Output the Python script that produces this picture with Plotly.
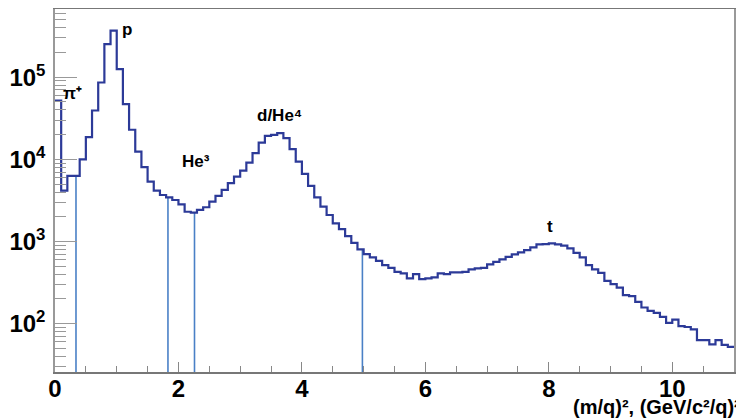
import plotly.graph_objects as go

# ---- data ----
bin_edges_start = 0.0
bin_width = 0.1
counts = [
    52000, 4150, 6280, 6280, 10000, 18600, 39300, 86200, 253000, 368000,
    125000, 47000, 22900, 12400, 8020, 5350, 4150, 3680, 3450, 3200,
    2830, 2300, 2240, 2420, 2610, 3050, 3580, 4240, 5120, 6150,
    7280, 9120, 11900, 16000, 19300, 19900, 20800, 18100, 13300, 9380,
    6640, 4740, 3450, 2650, 2100, 1660, 1410, 1160, 964, 801,
    702, 640, 582, 516, 478, 427, 408, 355, 400, 348,
    355, 365, 408, 400, 420, 420, 427, 457, 470, 478,
    526, 566, 605, 651, 696, 736, 785, 847, 922, 930,
    948, 922, 891, 824, 728, 640, 516, 457, 415, 332,
    302, 275, 222, 216, 184, 157, 143, 135, 121, 102,
    112, 93, 91, 85, 63, 63, 56, 63, 55, 52,
]
cuts = [0.34, 1.83, 2.26, 4.98]

labels = ["π⁺", "p", "He³", "d/He⁴", "t"]
label_x = [0.29, 1.17, 2.28, 3.63, 8.02]
label_logy = [4.80, 5.578, 3.974, 4.529, 3.188]

y_major = [100, 1000, 10000, 100000]
y_major_text = ["10<sup>2</sup>", "10<sup>3</sup>", "10<sup>4</sup>", "10<sup>5</sup>"]
x_major = [0, 2, 4, 6, 8, 10]

x_title = "(m/q)², (GeV/c²/q)²"

# ---- build ----
n = len(counts)
edges = [bin_edges_start + i * bin_width for i in range(n + 1)]
step_y = counts + [counts[-1]]

HIST = "#2c3a98"
CUT = "#4a80c6"
FONT = "Liberation Sans"

fig = go.Figure()

for c in cuts:
    k = min(int(c / bin_width), n - 1)
    fig.add_trace(go.Scatter(x=[c, c], y=[1, counts[k]], mode="lines",
                             line=dict(color=CUT, width=1.6),
                             hoverinfo="skip", showlegend=False))

fig.add_trace(go.Scatter(x=edges, y=step_y, mode="lines", line_shape="hv",
                         line=dict(color=HIST, width=2.2),
                         showlegend=False))

for t, lx, ly in zip(labels, label_x, label_logy):
    fig.add_annotation(x=lx, y=ly, text=t, showarrow=False,
                       font=dict(family=FONT, size=17, color="black", weight="bold"),
                       xanchor="center", yanchor="middle")

fig.add_annotation(xref="paper", yref="paper", x=1.013, y=-0.131, text=x_title,
                   showarrow=False, xanchor="right", yanchor="bottom",
                   font=dict(family=FONT, size=20, color="black", weight="bold"))

minor_y = [m * 10 ** d for d in range(1, 6) for m in range(2, 10)]

# page body has an 8px margin, so the figure is sized to fit the window
fig.update_layout(
    width=736, height=411,
    margin=dict(l=47, r=10, t=1, b=47, autoexpand=False),
    paper_bgcolor="white", plot_bgcolor="white",
    xaxis=dict(range=[0, 11], tickvals=x_major, ticks="inside", ticklen=10,
               tickcolor="#888", tickwidth=1, showgrid=False, zeroline=False,
               showline=True, linecolor="#777", linewidth=1.5, mirror=True,
               automargin=False, ticklabelstandoff=-6,
               tickfont=dict(family=FONT, size=24, color="black", weight="bold"),
               minor=dict(dtick=0.5, ticks="inside", ticklen=6, tickcolor="#888",
                          showgrid=False)),
    yaxis=dict(type="log", range=[1.411, 5.830], tickvals=y_major,
               ticktext=y_major_text, ticks="inside", ticklen=22, tickcolor="#999",
               tickwidth=1, showgrid=False, zeroline=False,
               showline=True, linecolor="#999", linewidth=1.5, mirror=True,
               automargin=False, ticklabelstandoff=3,
               tickfont=dict(family=FONT, size=24, color="black", weight="bold"),
               minor=dict(tickvals=minor_y, ticks="inside", ticklen=11,
                          tickcolor="#999", showgrid=False)),
)

fig.write_html("out.html")
